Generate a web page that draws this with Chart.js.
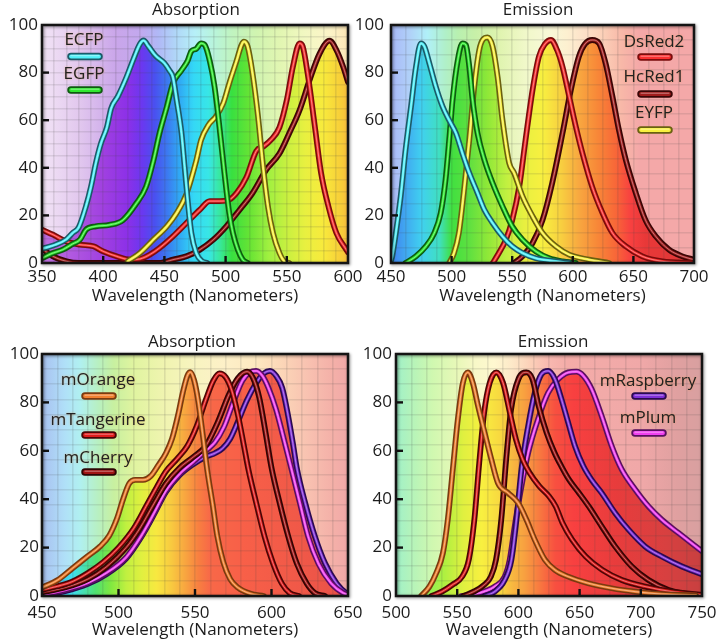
<!DOCTYPE html>
<html>
<head>
<meta charset="utf-8">
<script src="https://cdn.jsdelivr.net/npm/chart.js@4.4.0/dist/chart.umd.min.js"></script>
<style>
  body { margin: 0; background: #fff; }
  #wrap { position: relative; width: 725px; height: 641px; }
  #wrap canvas { position: absolute; left: 0; top: 0; }
</style>
</head>
<body>
<div id="wrap">
  <canvas id="c1" width="725" height="641"></canvas>
  <canvas id="c2" width="725" height="641"></canvas>
  <canvas id="c3" width="725" height="641"></canvas>
  <canvas id="c4" width="725" height="641"></canvas>
</div>
<script>
// ---- data (wavelength nm / relative intensity) ----

// top left: absorption
const ecfpAbsNm  = [350,360,370,375,380,386,390,394,398,403,406.5,412,419,425,430,433,437,443,450,454,457,460,464,466.5,469,472,476,481,485];
const ecfpAbsVal = [6,7.5,10,12.6,15,24,32,42,50,57,65,70,78,86,92,93.5,91,87,84,81,78,68.5,54.5,40.5,26.5,12.6,4.2,0.7,0];
const egfpAbsNm  = [350,358,367,375,381,386,394,405,416,427,435,441,446,452,457,464,469,472,476,480,483,487,491,495,499,503,506,510,514,518];
const egfpAbsVal = [2,4,5.6,8,9.8,14,15.4,16,18,25,32,43,54.5,65.7,75.5,81,85,89,90,92.3,91.6,85,74,57,38,21,12.6,5.6,1.4,0];
const eyfpAbsNm  = [420,430,441,452,460,468,476,480,486,492,498,503,509,513,515,518,522,526.5,530.6,534.6,538.7,544,548,552];
const eyfpAbsVal = [0.7,4.2,9.8,15.4,21,29,43,51.7,58,61.5,67,75.5,85,91.6,93,91,79.7,61.5,40.5,23.8,12.6,4.2,0.7,0];
const dsredAbsNm  = [350,359,370,381,392,400,411,422,430,438,446,457,468,479,487,495,503,509,517,525,531,537,544,550,555,560.5,563,567,573,578,584,590.5,598.6,600];
const dsredAbsVal = [14,11.9,9,7.7,7,4.9,2.8,1.4,1.7,3.5,6.3,11.2,16.8,22.4,26,26,26.6,29.4,36,47,49,51.7,57,68.5,82.5,92.3,91,79.7,57,37.8,23.8,12.6,5.6,4.5];
const hcredAbsNm  = [350,359,370,380,446,457,468,479,490,500.6,511.5,522,533,544,552,560.5,568.7,576.8,585,590.5,596,600];
const hcredAbsVal = [6,2.8,0.7,0,0,1.4,2.8,5.6,9.8,15.4,22.4,29.4,39,46,54.5,64.3,77,88,93.4,89.5,82.5,76];

// top right: emission
const ecfpEmNm  = [450,451,454,458,462,466.5,470.6,474.7,477.5,481.6,487,492.6,498,503.6,509,514.6,521.4,527,533.8,542,550,558.5,569.5,586,597];
const ecfpEmVal = [1,2.8,12.6,28,47.5,65.7,82.5,92.3,91,84,74,65.7,60,54.5,46,37.8,29.4,22.4,16.8,11.2,7,4.2,2,0.7,0];
const egfpEmNm  = [462,470.6,478.8,485.7,491,495,498,500.8,505,509,511.8,514.6,517.3,521.4,527,533.8,542,550,558.5,569.5,580.5,591.5,602.5];
const egfpEmVal = [0,2.8,7,12.6,21,35,51.7,68.5,85,92.3,91.6,82.5,68.5,54.5,43.4,33.6,23.8,15.4,9.8,4.9,2,0.7,0];
const eyfpEmNm  = [498,502,506,510,514.6,518.7,522.8,526,529.7,533.8,538,542,547.5,551.6,558.5,566.8,575,586,597,613.5,630];
const eyfpEmVal = [0,4.2,12.6,29.4,51.7,74,89.5,94,94.8,91,78,60,42,37.8,28,19.6,12.6,7,3.5,1.4,0];
const dsredEmNm  = [534,539,544.8,550,555.8,561,566.8,572,577,582,587,591.5,597,602.5,608,616,624.5,632.7,643.7,657.4,673.9,698.6];
const dsredEmVal = [0,4.2,9.8,18,32,51.7,72.7,86.7,92,93.7,89.5,82.5,70,57.3,46,32,21,12.6,7,2.8,0.7,0];
const hcredEmNm  = [551.6,558.5,566.8,575,583,591.5,598.4,605,610,616,621.7,627,632.7,638,643.7,652,660,668.4,679.4,690.4,700];
const hcredEmVal = [0,2.8,8.4,18,33.6,54.5,72.7,86.7,92,93.7,92.3,84,70,56,43.4,29.4,18,11.2,5.6,2.8,1.4];

// bottom left: absorption
const morangeAbsNm  = [450,460,470,480,488,494,499,503,507,511,516,521,526,531,535,539,542,545,547,549.5,552,555,558,561.5,564.5,568.5,573,578,586,595];
const morangeAbsVal = [3.5,6.5,11.5,16.5,20.5,25,32,40,46.5,48,48,49.5,54,59,65,75,84,91,92.5,89,81,67,52,38,25,14,7,3.5,1,0];
const mtangAbsNm  = [450,460,470,480,490,500,510,518,525,531,538,545,551,557,562,566,570,574,578,582,585,590,595.5,601,606.7,612,618];
const mtangAbsVal = [2.5,4,6,9.5,14,20,28,37,45,51.5,56.5,62,70,81,89,92,90.5,85,75,62,52,38.5,24.5,13.5,5.2,1.2,0];
const mcherryAbsNm  = [450,465,480,492,505,514,523,531,540,549,557,565,572,578,584,588,592,596,600,605.5,611,616.5,623,628.4,635];
const mcherryAbsVal = [1.5,3.5,7,12,20,28,38,46.5,53,57.5,62,72,83,90,92.7,90,82,68,53,38,24.5,13.5,5.2,1.2,0];
const mplumAbsNm  = [450,465,480,492,505,515,523,531,540,549,557,563,569,575,581,586,590,594,598,603,608,613.2,618.6,624,630.6,639,647,650];
const mplumAbsVal = [0.5,2.5,5.5,9.5,16,25,34,43.5,50.5,55.5,60,63.5,70,80,89,92.5,93,91,86,77,65,52,38.3,24.5,13.5,5.2,1.2,0.6];
const mraspAbsNm  = [450,465,480,492,505,515,523,531,540,549,557,563,568,573,578,584,590,595,599,603,607,611,614,616.5,622,628.4,635,642.6,649,650];
const mraspAbsVal = [0.3,2,5,9,15.5,24.5,33.5,43,50,54.5,57.5,59,61,65,72,81,88,92,93,91,86,74,63,53,38.5,24.5,13.5,5.2,1.2,1];

// bottom right: emission
const morangeEmNm  = [520.5,527.3,532.8,538.3,542.3,546.4,550.5,554.6,558.7,562.8,567,572.4,577.9,583.3,591.5,599.7,606.6,613.4,621.6,629.8,640.7,657,676.2,695.4,717,745];
const morangeEmVal = [0,3.9,9.4,17.7,31.5,52.3,73,88,92.4,88,78.6,67.5,56.4,46.7,42.6,38.5,31.5,23.2,15,10.8,8,5.3,3.2,1.8,0.8,0.3];
const mtangEmNm  = [529,537.5,546,554,559.5,564,568,572,576.5,582,587.5,593,598,603.5,609,617,625,630.5,636,644,655,668.5,684.5,703.5,725.4,744.5,750];
const mtangEmVal = [0,1.8,4.6,8,15,31.5,55,75.8,88,92.4,88,75.8,64.7,56.4,51,45.4,41.2,37,30.2,23.2,16.3,10.8,6.6,3.9,1.8,0.8,0.5];
const mcherryEmNm  = [555,563.5,572,577.5,581.7,586,590,594,600,606.5,611.5,616.5,623,629.5,635,641.5,649.5,657.5,668,679,692.6,706.3,722.7,744.5,750];
const mcherryEmVal = [0,1.8,4.6,8,15,31.5,56.4,77,89.6,92.4,89.6,78.6,67.5,59.2,53.7,48,42.6,37,28.8,20.5,12.2,6.6,2.5,0.4,0.2];
const mraspEmNm  = [572.4,580.6,588.8,594.3,598.4,602.5,608,613.4,618.9,624.3,629.8,635.2,640.7,646.2,653,659.8,668,679,690,703.5,717.2,733.6,750];
const mraspEmVal = [0,1.8,6.6,15,31.5,52.3,70.3,84,91.7,93,89.6,81.3,71.6,62,53.7,48,42.6,34.3,27.4,20.5,16.3,12.2,9];
const mplumEmNm  = [553.3,567,580.6,588.8,592.9,597,602.5,608,616,624.3,632.5,640.7,647.5,653,659.8,668,676.2,684.4,695.4,706.3,717.2,730.9,750];
const mplumEmVal = [0,1.1,3.9,8,15,28.8,45.4,59.2,73,84,89.6,92.4,92.7,91,85.5,74.4,62,52.3,44,37,31.5,26,18.5];

const yTicks = [0, 20, 40, 60, 80, 100];
const axisTitle = 'Wavelength (Nanometers)';

// line colours: bright core + dark edge
const colors = {
  ECFP: ['#50f0f8', '#1c5a68'],
  EGFP: ['#30e830', '#0e5a10'],
  EYFP: ['#f8f040', '#6a6010'],
  DsRed2: ['#f83030', '#7a0c0c'],
  HcRed1: ['#a01c1c', '#3a0606'],
  mOrange: ['#f08030', '#7a3a10'],
  mTangerine: ['#e01c1c', '#4a0606'],
  mCherry: ['#a01414', '#300404'],
  mRaspberry: ['#8030d8', '#2a0a50'],
  mPlum: ['#f040f0', '#5a1060']
};

Chart.defaults.font.family = '"Open Sans", "Noto Sans", sans-serif';
Chart.defaults.font.size = 17;
Chart.defaults.color = '#1c1c1c';

function spectrum(chart, stops) {
  const a = chart.chartArea, sx = chart.scales.x;
  const g = chart.ctx.createLinearGradient(a.left, 0, a.right, 0);
  stops.forEach(([nm, col]) => {
    const t = (sx.getPixelForValue(nm) - a.left) / (a.right - a.left);
    if (t >= 0 && t <= 1) g.addColorStop(t, col);
  });
  return g;
}

function pill(ctx, x1, x2, y, core, edge) {
  ctx.lineCap = 'round';
  ctx.strokeStyle = edge; ctx.lineWidth = 7.5;
  ctx.beginPath(); ctx.moveTo(x1, y); ctx.lineTo(x2, y); ctx.stroke();
  ctx.strokeStyle = core; ctx.lineWidth = 3.8;
  ctx.beginPath(); ctx.moveTo(x1, y); ctx.lineTo(x2, y); ctx.stroke();
  ctx.strokeStyle = 'rgba(255,255,255,0.45)'; ctx.lineWidth = 1;
  ctx.beginPath(); ctx.moveTo(x1, y - 0.8); ctx.lineTo(x2, y - 0.8); ctx.stroke();
}

function makePanel(p) {
  const a = p.area, yw = 40;
  const datasets = [];
  p.curves.forEach(([name, nm, val]) => {
    const [core, edge] = colors[name];
    const data = nm.map((x, i) => ({x, y: val[i]}));
    const base = {data, pointRadius: 0, cubicInterpolationMode: 'monotone', borderJoinStyle: 'round', borderCapStyle: 'round'};
    datasets.push({...base, label: name + ' gloss', borderColor: 'rgba(255,255,255,0.4)', borderWidth: 1, fill: false});
    datasets.push({...base, label: name, borderColor: core, borderWidth: 2.6, fill: false});
    datasets.push({...base, label: name + ' edge', borderColor: edge, borderWidth: 5.8, fill: 'origin',
      backgroundColor: ctx => ctx.chart.chartArea ? spectrum(ctx.chart, p.fill) : 'transparent'});
  });

  const backdrop = {
    id: 'backdrop',
    beforeDraw(chart) {
      const {ctx, chartArea: c} = chart;
      ctx.save();
      ctx.globalCompositeOperation = 'destination-over';
      ctx.fillStyle = spectrum(chart, p.bg);
      ctx.fillRect(c.left, c.top, c.width, c.height);
      ctx.restore();
    }
  };

  const decor = {
    id: 'decor',
    afterDraw(chart) {
      const {ctx, chartArea: c, scales: {x, y}} = chart;
      ctx.save();
      ctx.strokeStyle = '#111'; ctx.lineWidth = 2.4;
      x.ticks.forEach(t => {
        const px = x.getPixelForValue(t.value);
        if (px > c.left + 3 && px < c.right - 3) {
          ctx.beginPath(); ctx.moveTo(px, c.bottom); ctx.lineTo(px, c.bottom - 7); ctx.stroke();
        }
      });
      y.ticks.forEach(t => {
        const py = y.getPixelForValue(t.value);
        if (py > c.top + 3 && py < c.bottom - 3) {
          ctx.beginPath(); ctx.moveTo(c.left, py); ctx.lineTo(c.left + 7, py); ctx.stroke();
        }
      });
      ctx.shadowColor = 'rgba(0,0,0,0.45)'; ctx.shadowBlur = 3;
      ctx.shadowOffsetX = 1; ctx.shadowOffsetY = 1;
      ctx.strokeStyle = '#141414'; ctx.lineWidth = 2.5;
      ctx.strokeRect(c.left, c.top, c.width, c.height);
      ctx.restore();

      ctx.save();
      ctx.font = '17px "Open Sans", "Noto Sans", sans-serif';
      ctx.textAlign = 'center'; ctx.textBaseline = 'middle';
      ctx.fillStyle = '#1c1c1c';
      ctx.fillText(p.title, p.titleX, p.titleY);
      p.legend.forEach(([name, ty, py]) => {
        const [core, edge] = colors[name];
        ctx.save();
        ctx.shadowColor = 'rgba(240,150,60,0.55)'; ctx.shadowBlur = 2;
        ctx.fillStyle = '#222';
        ctx.fillText(name, p.legendX, ty);
        ctx.restore();
        pill(ctx, p.legendX - 13, p.legendX + 15, py, core, edge);
      });
      ctx.restore();
    }
  };

  const gridColor = 'rgba(70,70,70,0.13)';
  return new Chart(document.getElementById(p.id), {
    type: 'line',
    data: {datasets},
    options: {
      responsive: false, animation: false, devicePixelRatio: 1,
      layout: {padding: {left: a.l - yw, top: a.t, right: 725 - a.r, bottom: 641 - a.b - p.xh}},
      plugins: {legend: {display: false}, tooltip: {enabled: false}, filler: {drawTime: 'beforeDraw'}},
      scales: {
        x: {
          type: 'linear', min: p.xMin, max: p.xMax, position: 'bottom',
          ticks: {stepSize: 50, padding: p.xPad, maxRotation: 0, autoSkip: false},
          grid: {display: false, drawTicks: false}, border: {display: false},
          title: {display: true, text: axisTitle, padding: {top: 0, bottom: p.titlePad}},
          afterFit: s => { s.height = p.xh; }
        },
        xg: {
          type: 'linear', min: p.xMin, max: p.xMax, position: 'bottom',
          ticks: {display: false, stepSize: p.xGrid},
          grid: {color: gridColor, lineWidth: 1.6, drawTicks: false}, border: {display: false},
          afterFit: s => { s.height = 0; }
        },
        y: {
          type: 'linear', min: yTicks[0], max: yTicks[yTicks.length - 1], position: 'left',
          ticks: {stepSize: yTicks[1] - yTicks[0], padding: p.yPad},
          grid: {display: false, drawTicks: false}, border: {display: false},
          afterFit: s => { s.width = yw; }
        },
        yg: {
          type: 'linear', min: 0, max: 100, position: 'left',
          ticks: {display: false, stepSize: p.yGrid},
          grid: {color: gridColor, lineWidth: 1.6, drawTicks: false}, border: {display: false},
          afterFit: s => { s.width = 0; }
        }
      }
    },
    plugins: [backdrop, decor]
  });
}

makePanel({
  id: 'c1', title: 'Absorption', titleX: 196, titleY: 10,
  area: {l: 42, t: 25, r: 348, b: 263}, xh: 47, xPad: 4, yPad: 4, titlePad: 4,
  xMin: 350, xMax: 600, xGrid: 10, yGrid: 5,
  curves: [['ECFP', ecfpAbsNm, ecfpAbsVal], ['EGFP', egfpAbsNm, egfpAbsVal], ['EYFP', eyfpAbsNm, eyfpAbsVal],
           ['DsRed2', dsredAbsNm, dsredAbsVal], ['HcRed1', hcredAbsNm, hcredAbsVal]],
  legendX: 84, legend: [['ECFP', 40, 56.5], ['EGFP', 74, 90]],
  bg: [[350,'#f2e4f6'],[380,'#e2c8ee'],[410,'#caa6ea'],[430,'#c2a8ee'],[445,'#b0b8f6'],[460,'#b0d8f8'],[475,'#b6f0f8'],
       [490,'#b8f4dc'],[505,'#c0f4c0'],[525,'#d0f4b0'],[545,'#e2f6b2'],[565,'#f2f8c2'],[585,'#fcf4c8'],[600,'#fde6b6']],
  fill: [[350,'#c070e0'],[400,'#a040e0'],[420,'#8c30e8'],[432,'#6a38f0'],[442,'#4a50f0'],[452,'#3c78f0'],[462,'#30a8f4'],
         [474,'#34d8f6'],[486,'#38e6e6'],[495,'#38e8a0'],[505,'#38e040'],[520,'#68e434'],[535,'#a0f040'],[550,'#c8f040'],
         [565,'#e8f040'],[580,'#f8ea3c'],[595,'#f8cc38'],[600,'#f8bc40']]
});

makePanel({
  id: 'c2', title: 'Emission', titleX: 538, titleY: 10,
  area: {l: 391, t: 25, r: 694, b: 263}, xh: 47, xPad: 4, yPad: 7, titlePad: 4,
  xMin: 450, xMax: 700, xGrid: 12.5, yGrid: 6.25,
  curves: [['ECFP', ecfpEmNm, ecfpEmVal], ['EGFP', egfpEmNm, egfpEmVal], ['EYFP', eyfpEmNm, eyfpEmVal],
           ['DsRed2', dsredEmNm, dsredEmVal], ['HcRed1', hcredEmNm, hcredEmVal]],
  legendX: 654, legend: [['DsRed2', 42, 57], ['HcRed1', 77, 94], ['EYFP', 113, 130]],
  bg: [[450,'#a8b8f8'],[465,'#b0d0f8'],[480,'#b0f0f8'],[495,'#b0f0c8'],[505,'#b8f0b0'],[520,'#c8f0a8'],[540,'#e0f4b0'],
       [560,'#f0f8c8'],[580,'#f8f8d8'],[595,'#fdf0d0'],[610,'#fde0c8'],[625,'#fcd0b8'],[640,'#f8b8a8'],[655,'#f4a8a8'],[700,'#f4a8a8']],
  fill: [[450,'#4080f0'],[462,'#40a8f0'],[475,'#40d0f0'],[490,'#40e0c0'],[500,'#40e040'],[515,'#60e040'],[530,'#90e838'],
         [545,'#c0f040'],[560,'#e8f040'],[575,'#f8f040'],[590,'#f8d040'],[605,'#f8a840'],[620,'#f88838'],[635,'#f86838'],
         [648,'#f84040'],[660,'#e83838'],[700,'#e03838']]
});

makePanel({
  id: 'c3', title: 'Absorption', titleX: 192, titleY: 342,
  area: {l: 42, t: 354, r: 348, b: 596}, xh: 45, xPad: 7, yPad: 3, titlePad: 1,
  xMin: 450, xMax: 650, xGrid: 10, yGrid: 6.25,
  curves: [['mOrange', morangeAbsNm, morangeAbsVal], ['mTangerine', mtangAbsNm, mtangAbsVal], ['mCherry', mcherryAbsNm, mcherryAbsVal],
           ['mPlum', mplumAbsNm, mplumAbsVal], ['mRaspberry', mraspAbsNm, mraspAbsVal]],
  legendX: 98, legend: [['mOrange', 380, 396], ['mTangerine', 420, 435], ['mCherry', 458, 472]],
  bg: [[450,'#a8c0f0'],[465,'#b0e0f8'],[475,'#b0f0f0'],[487,'#b8f0c0'],[497,'#c8f0a0'],[510,'#e0f4a0'],[530,'#f0f4b0'],
       [550,'#f8f4c0'],[570,'#fdf0c8'],[590,'#fde8c0'],[605,'#fcd8b8'],[625,'#f8c0b0'],[640,'#f4b0a8'],[650,'#f0a8a8']],
  fill: [[450,'#40a0f0'],[470,'#40e0f0'],[485,'#50e070'],[495,'#80e840'],[505,'#c0f040'],[515,'#e0f040'],[525,'#f8e840'],
         [535,'#f8c840'],[545,'#f8a040'],[552,'#f88040'],[560,'#f86848'],[580,'#f86048'],[620,'#f05848'],[650,'#e85048']]
});

makePanel({
  id: 'c4', title: 'Emission', titleX: 553, titleY: 342,
  area: {l: 396, t: 354, r: 702, b: 596}, xh: 45, xPad: 7, yPad: 4, titlePad: 1,
  xMin: 500, xMax: 750, xGrid: 12.5, yGrid: 6.25,
  curves: [['mOrange', morangeEmNm, morangeEmVal], ['mTangerine', mtangEmNm, mtangEmVal], ['mCherry', mcherryEmNm, mcherryEmVal],
           ['mRaspberry', mraspEmNm, mraspEmVal], ['mPlum', mplumEmNm, mplumEmVal]],
  legendX: 648, legend: [['mRaspberry', 381, 396], ['mPlum', 418, 433]],
  bg: [[500,'#a0f0c8'],[515,'#b8f4b8'],[530,'#d0f8b0'],[550,'#e8f8b8'],[565,'#f8f8c8'],[580,'#fff8d0'],[595,'#fde8c8'],
       [610,'#fcd0b8'],[625,'#f8b8b0'],[640,'#f4aca8'],[700,'#f0a8a8'],[730,'#e0a0a0'],[750,'#d8a0a0']],
  fill: [[500,'#40e0a0'],[520,'#80f060'],[540,'#b0f040'],[555,'#e0f040'],[570,'#f8f040'],[585,'#f8d840'],[595,'#f8b840'],
         [605,'#f8a040'],[615,'#f88040'],[630,'#f85040'],[645,'#f84040'],[680,'#e83c3c'],[720,'#d84040'],[750,'#c84040']]
});
</script>
</body>
</html>
